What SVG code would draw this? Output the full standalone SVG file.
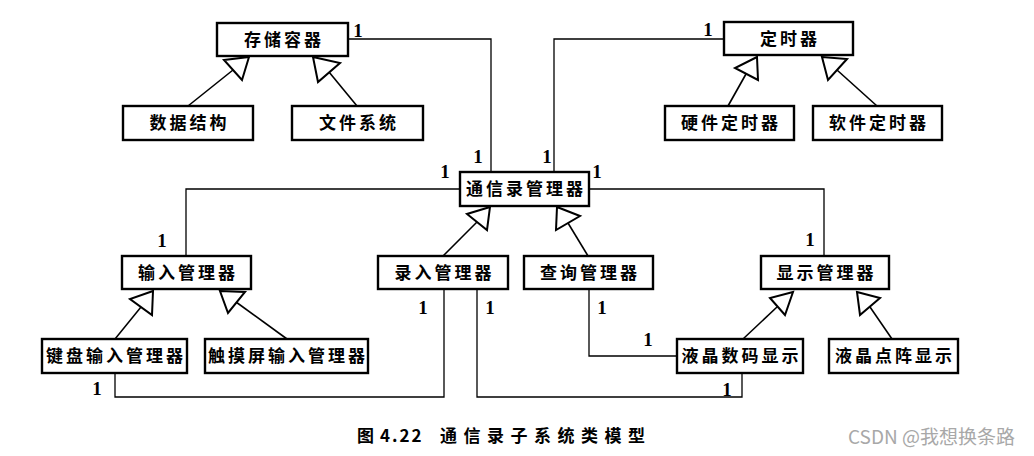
<svg xmlns="http://www.w3.org/2000/svg" width="1034" height="456" viewBox="0 0 1034 456">
<style>
.box{fill:#fff;stroke:#000;stroke-width:2.4}
.lbl{font-family:"Noto Sans CJK SC","Noto Sans",sans-serif;font-size:17px;font-weight:700;letter-spacing:3px;text-anchor:middle;fill:#000}
.conn{fill:none;stroke:#000;stroke-width:1.3}
.gen{fill:none;stroke:#000;stroke-width:1.6}
.tri{fill:#fff;stroke:#000;stroke-width:2;stroke-linejoin:miter}
.m{font-family:"Liberation Serif",serif;font-size:19px;font-weight:700;text-anchor:middle;fill:#000}
.cap{font-family:"Noto Sans CJK SC","Noto Sans",sans-serif;font-size:17px;font-weight:700;fill:#000}
.wm{font-family:"Noto Sans CJK SC","Noto Sans",sans-serif;font-size:19px;fill:#a8a8a8}
</style>
<rect width="1034" height="456" fill="#fff"/>
<g id="connectors">
<polyline class="conn" points="348,39 491,39 491,172"/>
<polyline class="conn" points="724,39 554,39 554,172"/>
<polyline class="conn" points="460,189 186,189 186,256"/>
<polyline class="conn" points="589,189 824,189 824,256"/>
<polyline class="conn" points="444,289 444,397 115,397 115,373"/>
<polyline class="conn" points="477,289 477,397 742,397 742,373"/>
<polyline class="conn" points="589,289 589,356 677,356"/>
<line class="gen" x1="188" y1="106" x2="233" y2="70"/>
<polygon class="tri" points="224,60 249,57 242,80"/>
<line class="gen" x1="357" y1="106" x2="329" y2="72"/>
<polygon class="tri" points="313,57 340,63 318,82"/>
<line class="gen" x1="728" y1="106" x2="746" y2="74"/>
<polygon class="tri" points="757,57 735,68 758,80"/>
<line class="gen" x1="877" y1="106" x2="837" y2="70"/>
<polygon class="tri" points="822,57 847,59 828,80"/>
<line class="gen" x1="443" y1="256" x2="477" y2="222"/>
<polygon class="tri" points="490,207 467,214 487,230"/>
<line class="gen" x1="588" y1="256" x2="568" y2="223"/>
<polygon class="tri" points="557,207 580,216 556,230"/>
<line class="gen" x1="115" y1="339" x2="141" y2="307"/>
<polygon class="tri" points="153,291 130,299 152,315"/>
<line class="gen" x1="287" y1="339" x2="236" y2="302"/>
<polygon class="tri" points="220,291 245,292 228,313"/>
<line class="gen" x1="743" y1="339" x2="777" y2="307"/>
<polygon class="tri" points="793,292 770,298 785,315"/>
<line class="gen" x1="892" y1="339" x2="870" y2="307"/>
<polygon class="tri" points="857,292 880,298 860,315"/>
</g>
<g id="multiplicities">
<text class="m" x="358" y="37">1</text>
<text class="m" x="478" y="163">1</text>
<text class="m" x="708" y="36">1</text>
<text class="m" x="547" y="163">1</text>
<text class="m" x="445" y="178">1</text>
<text class="m" x="597" y="178">1</text>
<text class="m" x="162" y="247">1</text>
<text class="m" x="810" y="246">1</text>
<text class="m" x="423" y="314">1</text>
<text class="m" x="490" y="314">1</text>
<text class="m" x="602" y="314">1</text>
<text class="m" x="648" y="346">1</text>
<text class="m" x="97" y="395">1</text>
<text class="m" x="727" y="396">1</text>
</g>
<g id="n-storage"><rect class="box" x="217" y="23" width="131" height="33"/><text class="lbl" x="284" y="45.5">存储容器</text></g>
<g id="n-datastruct"><rect class="box" x="123" y="106" width="130" height="34"/><text class="lbl" x="189.5" y="129">数据结构</text></g>
<g id="n-filesys"><rect class="box" x="292" y="106" width="131" height="34"/><text class="lbl" x="359" y="129">文件系统</text></g>
<g id="n-timer"><rect class="box" x="724" y="22" width="129" height="33"/><text class="lbl" x="790" y="44.5">定时器</text></g>
<g id="n-hwtimer"><rect class="box" x="665" y="106" width="129" height="34"/><text class="lbl" x="731" y="129">硬件定时器</text></g>
<g id="n-swtimer"><rect class="box" x="813" y="106" width="129" height="34"/><text class="lbl" x="879" y="129">软件定时器</text></g>
<g id="n-commmgr"><rect class="box" x="460" y="172" width="129" height="34"/><text class="lbl" x="526" y="195">通信录管理器</text></g>
<g id="n-inputmgr"><rect class="box" x="122" y="256" width="129" height="33"/><text class="lbl" x="188" y="278.5">输入管理器</text></g>
<g id="n-entrymgr"><rect class="box" x="378" y="256" width="130" height="33"/><text class="lbl" x="444.5" y="278.5">录入管理器</text></g>
<g id="n-querymgr"><rect class="box" x="524" y="256" width="129" height="33"/><text class="lbl" x="590" y="278.5">查询管理器</text></g>
<g id="n-displaymgr"><rect class="box" x="761" y="256" width="128" height="33"/><text class="lbl" x="826.5" y="278.5">显示管理器</text></g>
<g id="n-keyboard"><rect class="box" x="42" y="339" width="145" height="34"/><text class="lbl" x="116" y="362">键盘输入管理器</text></g>
<g id="n-touch"><rect class="box" x="205" y="339" width="163" height="34"/><text class="lbl" x="288" y="362">触摸屏输入管理器</text></g>
<g id="n-lcdnum"><rect class="box" x="677" y="339" width="126" height="34"/><text class="lbl" x="741.5" y="362">液晶数码显示</text></g>
<g id="n-lcddot"><rect class="box" x="829" y="339" width="129" height="34"/><text class="lbl" x="895" y="362">液晶点阵显示</text></g>
<g id="caption">
<text class="cap" x="357" y="442">图</text>
<text class="cap" x="380" y="442" letter-spacing="2">4.22</text>
<text class="cap" x="440" y="442" letter-spacing="6.5">通信录子系统类模型</text>
</g>
<text class="wm" x="848" y="444">CSDN @我想换条路</text>
</svg>
